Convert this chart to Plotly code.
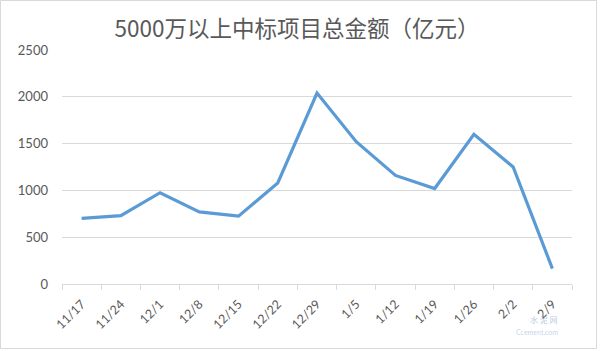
import plotly.graph_objects as go

categories = ["11/17", "11/24", "12/1", "12/8", "12/15", "12/22", "12/29",
              "1/5", "1/12", "1/19", "1/26", "2/2", "2/9"]
values = [702, 730, 975, 770, 725, 1080, 2040, 1520, 1160, 1020, 1600, 1250, 165]
y_ticks = [0, 500, 1000, 1500, 2000, 2500]
title_text = "5000万以上中标项目总金额（亿元）"

W, H = 600, 351
L, R, T, B = 62, 28, 50, 67
pw, ph = W - L - R, H - T - B

def px_x(p):
    return (p - L) / pw

def px_y(p):
    return (H - B - p) / ph

fig = go.Figure()
fig.add_trace(go.Scatter(
    x=categories, y=values, mode="lines",
    line=dict(color="#5B9BD5", width=3.2),
    hoverinfo="x+y", showlegend=False,
))

font_family = "Lato, 'Open Sans', sans-serif"

fig.update_layout(
    width=W, height=H,
    margin=dict(l=L, r=R, t=T, b=B),
    paper_bgcolor="white", plot_bgcolor="white",
    title=dict(text=title_text, x=297 / W, xref="container",
               xanchor="center", y=1 - 29 / H, yref="container", yanchor="middle",
               font=dict(family="'Noto Sans CJK SC', sans-serif", size=22.5, color="#595959")),
    xaxis=dict(
        type="category", tickson="boundaries", ticks="outside", ticklen=5,
        tickcolor="#d9d9d9", showline=True, linecolor="#d9d9d9", linewidth=1,
        showgrid=False, tickangle=-45, ticklabelstandoff=7,
        tickfont=dict(family=font_family, size=12.5, color="#595959"),
        range=[-0.5, len(categories) - 0.5],
    ),
    yaxis=dict(
        range=[0, 2500], tickvals=y_ticks, showgrid=True, gridcolor="#d9d9d9",
        gridwidth=1, zeroline=False, showline=False, ticks="",
        ticklabelstandoff=13,
        tickfont=dict(family=font_family, size=13, color="#595959"),
    ),
    shapes=[dict(type="rect", xref="paper", yref="paper",
                 x0=px_x(0.5), x1=px_x(W - 3.5), y0=px_y(0.5), y1=px_y(H - 2.5),
                 line=dict(color="#d9d9d9", width=1), fillcolor="rgba(0,0,0,0)", layer="below")],
    annotations=[
        dict(text="水 泥 网", xref="paper", yref="paper", x=px_x(560), y=px_y(327),
             showarrow=False, font=dict(size=8, color="rgba(120,150,200,0.55)",
                                        family="'Noto Sans CJK SC', sans-serif")),
        dict(text="Ccement.com", xref="paper", yref="paper", x=px_x(560), y=px_y(338),
             showarrow=False, font=dict(size=7, color="rgba(120,150,200,0.45)", family=font_family)),
    ],
)

fig.write_html("out.html")
